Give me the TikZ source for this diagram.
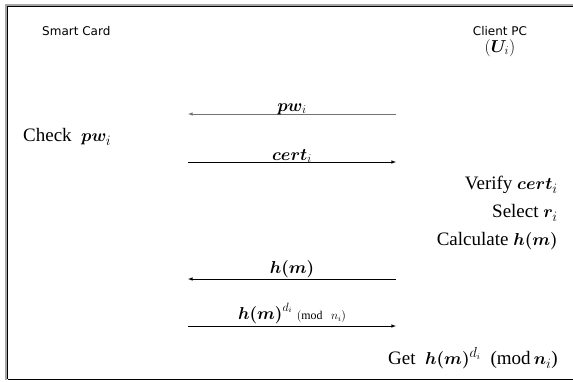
\documentclass[tikz,border=0pt]{standalone}
\usepackage{amsmath,bm}
\usepackage{fontspec}
\setmainfont{Liberation Serif}
\newfontfamily\labelfont{DejaVu Sans}
\usetikzlibrary{arrows}

\begin{document}
\begin{tikzpicture}[x=1pt, y=-1pt, msg/.style={-latex, line width=0.6pt}]
	\tikzstyle{party} = [inner sep=0pt, font=\labelfont\fontsize{12}{14}\selectfont]
	\tikzstyle{action} = [inner sep=0pt, font=\fontsize{19}{21}\selectfont]
	\tikzstyle{label} = [inner sep=1pt, anchor=south, font=\fontsize{17}{19}\selectfont]
	\useasboundingbox (0,0) rectangle (573,381);
	\draw[gray!70, line width=2pt] (6,380) -- (6,5) -- (573,5);
	\draw[line width=0.8pt] (7.5,379) -- (7.5,6.5) -- (573,6.5);
	\draw[line width=1pt] (7.5,379) -- (573,379);
	% parties
	\node[party, anchor=west] (sc) at (42,31) {Smart Card};
	\node[party] (pc) at (500,31) {Client PC};
	\node[action, font=\fontsize{17}{19}\selectfont] (ui) at (500,48) {$(\bm{U}_{i})$};
	% messages
	\coordinate (a1r) at (396,114); \coordinate (a1l) at (188,114);
	\coordinate (a2l) at (188,162); \coordinate (a2r) at (396,162);
	\coordinate (a3r) at (396,279); \coordinate (a3l) at (188,279);
	\coordinate (a4l) at (188,326); \coordinate (a4r) at (396,326);
	\draw[msg, black!55] (a1r) -- (a1l) node[label, midway, black, inner sep=-1pt] {$\bm{pw}_{i}$};
	\draw[msg] (a2l) -- (a2r) node[label, midway, inner sep=-1pt] {$\bm{cert}_{i}$};
	\draw[msg] (a3r) -- (a3l) node[label, midway] {$\bm{h(m)}$};
	\draw[msg] (a4l) -- (a4r) node[label, midway, inner sep=2pt] {$\bm{h(m)}^{d_i}\ {\scriptstyle(\mathrm{mod}\ \ n_i)}$};
	% actions
	\node[action, anchor=west] (check) at (23,137) {Check\ \ $\bm{pw}_{i}$};
	\node[action, anchor=east] (verify) at (558,185) {Verify $\bm{cert}_{i}$};
	\node[action, anchor=east] (select) at (558,213) {Select $\bm{r}_{i}$};
	\node[action, anchor=east] (calc) at (558,241) {Calculate $\bm{h(m)}$};
	\node[action, anchor=east] (get) at (558,358) {Get\ \ $\bm{h(m)}^{d_i}$\ \ (mod\,$\bm{n}_{i}$)};
\end{tikzpicture}
\end{document}
